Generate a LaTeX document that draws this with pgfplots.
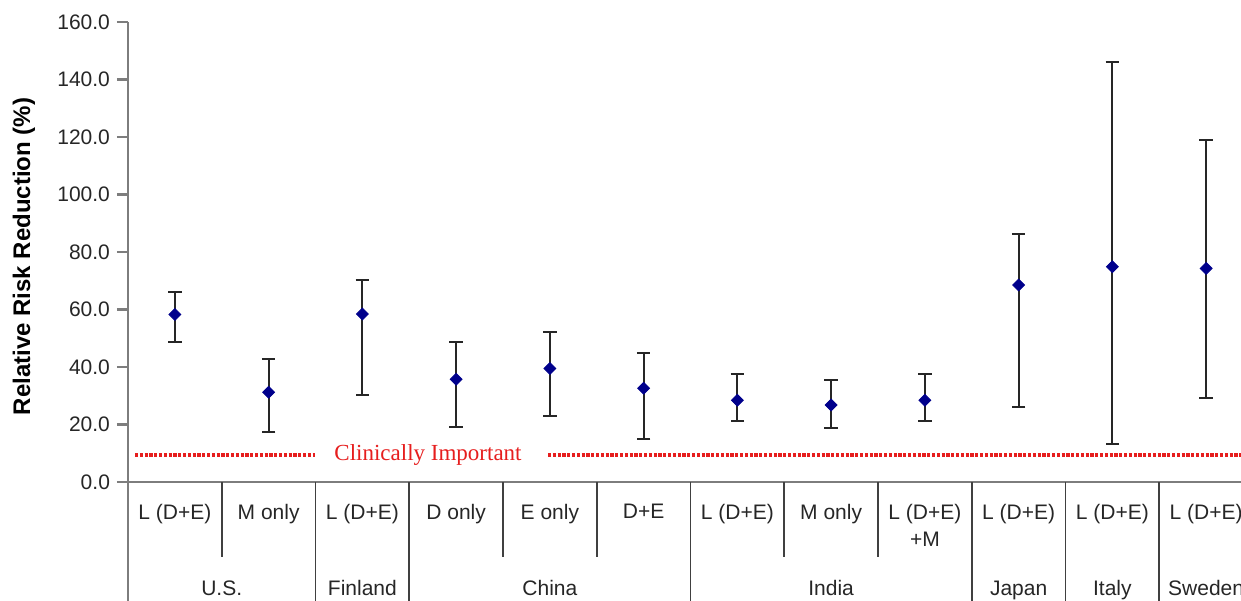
\documentclass[border=0pt]{standalone}
\usepackage{pgfplots}
\pgfplotsset{compat=1.18}
\usepackage{fontspec}
\setmainfont{Liberation Sans}
\newfontfamily\serifrm{Liberation Serif}
\definecolor{navy}{RGB}{0,0,140}
\definecolor{axgray}{RGB}{125,125,125}
\definecolor{refred}{RGB}{230,30,30}
\tikzset{sep/.style={black!75, line width=0.8pt}, ctry/.style={anchor=base, yshift=-56.5pt, font=\fontsize{10.5}{12}\selectfont, text=black!85}}
\begin{document}
\begin{tikzpicture}
\begin{axis}[
  name=ax, at={(0,0)}, anchor=south west,
  scale only axis, width=562.5pt, height=230pt,
  xmin=-0.5, xmax=11.5, ymin=0, ymax=160,
  axis x line*=bottom, axis y line*=left,
  axis line style={axgray, line width=1.2pt},
  clip=false,
  tick align=outside,
  major tick length=5.5pt,
  ytick={0,20,...,160},
  y tick style={axgray, line width=1.2pt},
  yticklabel style={/pgf/number format/fixed, /pgf/number format/fixed zerofill, /pgf/number format/precision=1, /pgf/number format/assume math mode=true, font=\fontsize{10.5}{12}\selectfont, text=black!85},
  xtick={0,...,11},
  xticklabels={L (D+E), M only, L (D+E), D only, E only, D+E, L (D+E), M only, {L (D+E)\\+M}, L (D+E), L (D+E), L (D+E)},
  x tick style={draw=none},
  xticklabel style={font=\fontsize{10.5}{13.5}\selectfont, text=black!85, align=center, anchor=north, yshift=-2pt},
  ylabel={Relative Risk Reduction (\%)},
  ylabel style={font=\bfseries\fontsize{12}{14}\selectfont, at={(axis description cs:0,0.49)}, anchor=center, yshift=52pt},
]
% separators
\draw[axgray, line width=1.2pt] (axis cs:-0.5,0) -- ([yshift=-70pt]axis cs:-0.5,0);
\draw[sep] (axis cs:0.5,0) -- ([yshift=-37.5pt]axis cs:0.5,0);
\draw[sep] (axis cs:3.5,0) -- ([yshift=-37.5pt]axis cs:3.5,0);
\draw[sep] (axis cs:4.5,0) -- ([yshift=-37.5pt]axis cs:4.5,0);
\draw[sep] (axis cs:6.5,0) -- ([yshift=-37.5pt]axis cs:6.5,0);
\draw[sep] (axis cs:7.5,0) -- ([yshift=-37.5pt]axis cs:7.5,0);
\draw[sep] (axis cs:1.5,0) -- ([yshift=-70pt]axis cs:1.5,0);
\draw[sep] (axis cs:2.5,0) -- ([yshift=-70pt]axis cs:2.5,0);
\draw[sep] (axis cs:5.5,0) -- ([yshift=-70pt]axis cs:5.5,0);
\draw[sep] (axis cs:8.5,0) -- ([yshift=-70pt]axis cs:8.5,0);
\draw[sep] (axis cs:9.5,0) -- ([yshift=-70pt]axis cs:9.5,0);
\draw[sep] (axis cs:10.5,0) -- ([yshift=-70pt]axis cs:10.5,0);
% country labels
\node[ctry] at (axis cs:0.5,0) {U.S.};
\node[ctry] at (axis cs:2,0) {Finland};
\node[ctry] at (axis cs:4,0) {China};
\node[ctry] at (axis cs:7,0) {India};
\node[ctry] at (axis cs:9,0) {Japan};
\node[ctry] at (axis cs:10,0) {Italy};
\node[ctry] at (axis cs:11,0) {Sweden};
% clinically important line
\draw[refred, line width=1.6pt, dash pattern=on 1.6pt off 0.8pt] (axis cs:-0.425,9.4) -- (axis cs:1.495,9.4);
\draw[refred, line width=1.6pt, dash pattern=on 1.6pt off 0.8pt] (axis cs:3.98,9.4) -- (axis cs:11.6,9.4);
\node[anchor=base, text=refred, font=\serifrm\fontsize{11.5}{13}\selectfont] at (axis cs:2.7,7.6) {Clinically Important};

\addplot[only marks, mark=square*, mark size=2.1pt,
  mark options={rotate=45, fill=navy, draw=navy},
  error bars/.cd, y dir=both, y explicit,
  error bar style={black!85, line width=1pt},
  error mark options={black!85, line width=1pt, mark size=3.4pt, rotate=90}]
table[x=x, y=y, y error plus=ep, y error minus=em] {
x y ep em
0 58.3 7.7 9.7
1 31.2 11.7 13.9
2 58.4 11.9 28.1
3 35.7 13.0 16.7
4 39.5 12.7 16.4
5 32.6 12.2 17.6
6 28.4 9.1 7.3
7 26.8 8.7 7.9
8 28.4 9.1 7.3
9 68.5 17.8 42.3
10 74.9 71.1 61.7
11 74.3 44.7 45.2
};
\end{axis}
\pgfresetboundingbox
\path[use as bounding box] (-64pt,-59pt) rectangle (556.5pt,241pt);
\end{tikzpicture}
\end{document}
